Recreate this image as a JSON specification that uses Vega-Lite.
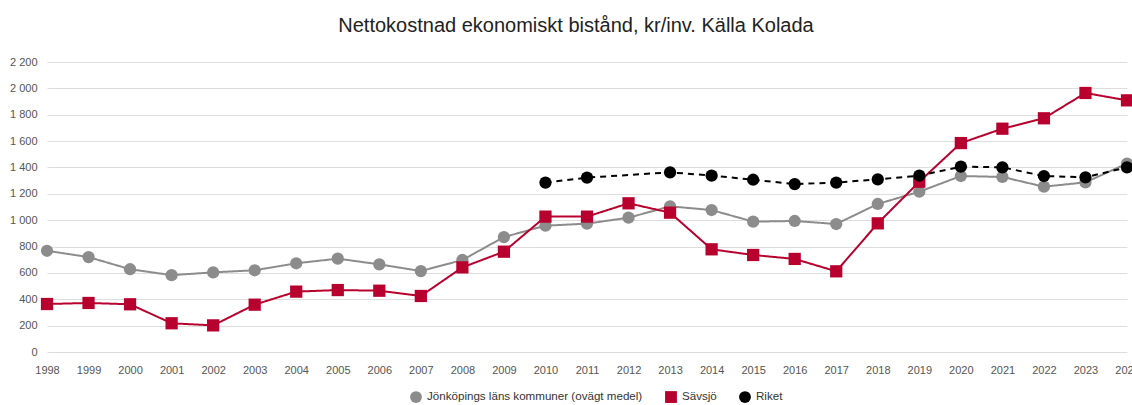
{
  "$schema": "https://vega.github.io/schema/vega-lite/v6.json",
  "autosize": "none",
  "width": 1080,
  "height": 290,
  "padding": {"left": 47, "top": 62, "right": 5, "bottom": 53},
  "background": "white",
  "title": {
    "text": "Nettokostnad ekonomiskt bistånd, kr/inv. Källa Kolada",
    "font": "Liberation Sans",
    "fontSize": 20,
    "fontWeight": "normal",
    "color": "#222222",
    "anchor": "middle",
    "frame": "group",
    "offset": 20,
    "dx": -11
  },
  "config": {
    "view": {"stroke": null},
    "font": "Liberation Sans",
    "axis": {"labelFont": "Liberation Sans", "labelColor": "#555555", "labelFontSize": 11, "title": null},
    "legend": {"labelFont": "Liberation Sans", "labelFontSize": 11.6, "labelColor": "#333333", "labelLimit": 0}
  },
  "data": {
    "values": [
      {"year": "1998", "serie": "Jönköpings läns kommuner (ovägt medel)", "value": 768},
      {"year": "1999", "serie": "Jönköpings läns kommuner (ovägt medel)", "value": 720},
      {"year": "2000", "serie": "Jönköpings läns kommuner (ovägt medel)", "value": 628},
      {"year": "2001", "serie": "Jönköpings läns kommuner (ovägt medel)", "value": 583},
      {"year": "2002", "serie": "Jönköpings läns kommuner (ovägt medel)", "value": 604},
      {"year": "2003", "serie": "Jönköpings läns kommuner (ovägt medel)", "value": 620},
      {"year": "2004", "serie": "Jönköpings läns kommuner (ovägt medel)", "value": 673},
      {"year": "2005", "serie": "Jönköpings läns kommuner (ovägt medel)", "value": 708},
      {"year": "2006", "serie": "Jönköpings läns kommuner (ovägt medel)", "value": 665},
      {"year": "2007", "serie": "Jönköpings läns kommuner (ovägt medel)", "value": 614},
      {"year": "2008", "serie": "Jönköpings läns kommuner (ovägt medel)", "value": 698},
      {"year": "2009", "serie": "Jönköpings läns kommuner (ovägt medel)", "value": 872},
      {"year": "2010", "serie": "Jönköpings läns kommuner (ovägt medel)", "value": 958},
      {"year": "2011", "serie": "Jönköpings läns kommuner (ovägt medel)", "value": 974},
      {"year": "2012", "serie": "Jönköpings läns kommuner (ovägt medel)", "value": 1019},
      {"year": "2013", "serie": "Jönköpings läns kommuner (ovägt medel)", "value": 1105},
      {"year": "2014", "serie": "Jönköpings läns kommuner (ovägt medel)", "value": 1077},
      {"year": "2015", "serie": "Jönköpings läns kommuner (ovägt medel)", "value": 989},
      {"year": "2016", "serie": "Jönköpings läns kommuner (ovägt medel)", "value": 994},
      {"year": "2017", "serie": "Jönköpings läns kommuner (ovägt medel)", "value": 971},
      {"year": "2018", "serie": "Jönköpings läns kommuner (ovägt medel)", "value": 1123},
      {"year": "2019", "serie": "Jönköpings läns kommuner (ovägt medel)", "value": 1216},
      {"year": "2020", "serie": "Jönköpings läns kommuner (ovägt medel)", "value": 1335},
      {"year": "2021", "serie": "Jönköpings läns kommuner (ovägt medel)", "value": 1328},
      {"year": "2022", "serie": "Jönköpings läns kommuner (ovägt medel)", "value": 1254},
      {"year": "2023", "serie": "Jönköpings läns kommuner (ovägt medel)", "value": 1287},
      {"year": "2024", "serie": "Jönköpings läns kommuner (ovägt medel)", "value": 1430},
      {"year": "1998", "serie": "Sävsjö", "value": 364},
      {"year": "1999", "serie": "Sävsjö", "value": 372},
      {"year": "2000", "serie": "Sävsjö", "value": 362},
      {"year": "2001", "serie": "Sävsjö", "value": 218},
      {"year": "2002", "serie": "Sävsjö", "value": 202},
      {"year": "2003", "serie": "Sävsjö", "value": 359},
      {"year": "2004", "serie": "Sävsjö", "value": 458},
      {"year": "2005", "serie": "Sävsjö", "value": 470},
      {"year": "2006", "serie": "Sävsjö", "value": 465},
      {"year": "2007", "serie": "Sävsjö", "value": 425},
      {"year": "2008", "serie": "Sävsjö", "value": 642},
      {"year": "2009", "serie": "Sävsjö", "value": 761},
      {"year": "2010", "serie": "Sävsjö", "value": 1027},
      {"year": "2011", "serie": "Sävsjö", "value": 1027},
      {"year": "2012", "serie": "Sävsjö", "value": 1128},
      {"year": "2013", "serie": "Sävsjö", "value": 1057},
      {"year": "2014", "serie": "Sävsjö", "value": 779},
      {"year": "2015", "serie": "Sävsjö", "value": 736},
      {"year": "2016", "serie": "Sävsjö", "value": 706},
      {"year": "2017", "serie": "Sävsjö", "value": 612},
      {"year": "2018", "serie": "Sävsjö", "value": 976},
      {"year": "2019", "serie": "Sävsjö", "value": 1292},
      {"year": "2020", "serie": "Sävsjö", "value": 1585},
      {"year": "2021", "serie": "Sävsjö", "value": 1694},
      {"year": "2022", "serie": "Sävsjö", "value": 1773},
      {"year": "2023", "serie": "Sävsjö", "value": 1965},
      {"year": "2024", "serie": "Sävsjö", "value": 1909},
      {"year": "2010", "serie": "Riket", "value": 1285},
      {"year": "2011", "serie": "Riket", "value": 1323},
      {"year": "2013", "serie": "Riket", "value": 1363},
      {"year": "2014", "serie": "Riket", "value": 1338},
      {"year": "2015", "serie": "Riket", "value": 1307},
      {"year": "2016", "serie": "Riket", "value": 1274},
      {"year": "2017", "serie": "Riket", "value": 1285},
      {"year": "2018", "serie": "Riket", "value": 1310},
      {"year": "2019", "serie": "Riket", "value": 1338},
      {"year": "2020", "serie": "Riket", "value": 1406},
      {"year": "2021", "serie": "Riket", "value": 1401},
      {"year": "2022", "serie": "Riket", "value": 1335},
      {"year": "2023", "serie": "Riket", "value": 1325},
      {"year": "2024", "serie": "Riket", "value": 1401}
    ]
  },
  "encoding": {
    "x": {
      "field": "year",
      "type": "ordinal",
      "scale": {"type": "point", "padding": 0},
      "axis": {"labelAngle": 0, "domain": false, "ticks": false, "grid": false, "labelPadding": 12}
    },
    "y": {
      "field": "value",
      "type": "quantitative",
      "scale": {"domain": [0, 2200]},
      "axis": {
        "values": [0, 200, 400, 600, 800, 1000, 1200, 1400, 1600, 1800, 2000, 2200],
        "domain": false,
        "ticks": false,
        "grid": true,
        "gridColor": "#dddddd",
        "gridWidth": 1,
        "labelPadding": 10,
        "labelExpr": "replace(format(datum.value, ','), ',', ' ')"
      }
    }
  },
  "layer": [
    {
      "mark": {"type": "line", "strokeWidth": 2},
      "encoding": {
        "color": {
          "field": "serie",
          "type": "nominal",
          "scale": {
            "domain": ["Jönköpings läns kommuner (ovägt medel)", "Sävsjö", "Riket"],
            "range": ["#8c8c8c", "#b8002e", "#000000"]
          }
        },
        "strokeDash": {
          "field": "serie",
          "type": "nominal",
          "scale": {
            "domain": ["Jönköpings läns kommuner (ovägt medel)", "Sävsjö", "Riket"],
            "range": [[1, 0], [1, 0], [6, 5]]
          },
          "legend": null
        }
      }
    },
    {
      "mark": {"type": "point", "filled": true, "opacity": 1, "size": 150},
      "encoding": {
        "color": {
          "field": "serie",
          "type": "nominal",
          "legend": {
            "title": null,
            "orient": "none",
            "direction": "horizontal",
            "legendX": 363,
            "legendY": 329,
            "symbolSize": 140,
            "symbolOpacity": 1,
            "symbolStrokeWidth": 0,
            "columnPadding": 22,
            "labelOffset": 5,
            "labelLimit": 0
          }
        },
        "shape": {
          "field": "serie",
          "type": "nominal",
          "scale": {
            "domain": ["Jönköpings läns kommuner (ovägt medel)", "Sävsjö", "Riket"],
            "range": ["circle", "square", "circle"]
          },
          "legend": {
            "title": null,
            "orient": "none",
            "direction": "horizontal",
            "legendX": 363,
            "legendY": 329,
            "symbolSize": 140,
            "symbolOpacity": 1,
            "symbolStrokeWidth": 0,
            "columnPadding": 22,
            "labelOffset": 5,
            "labelLimit": 0
          }
        }
      }
    }
  ]
}
